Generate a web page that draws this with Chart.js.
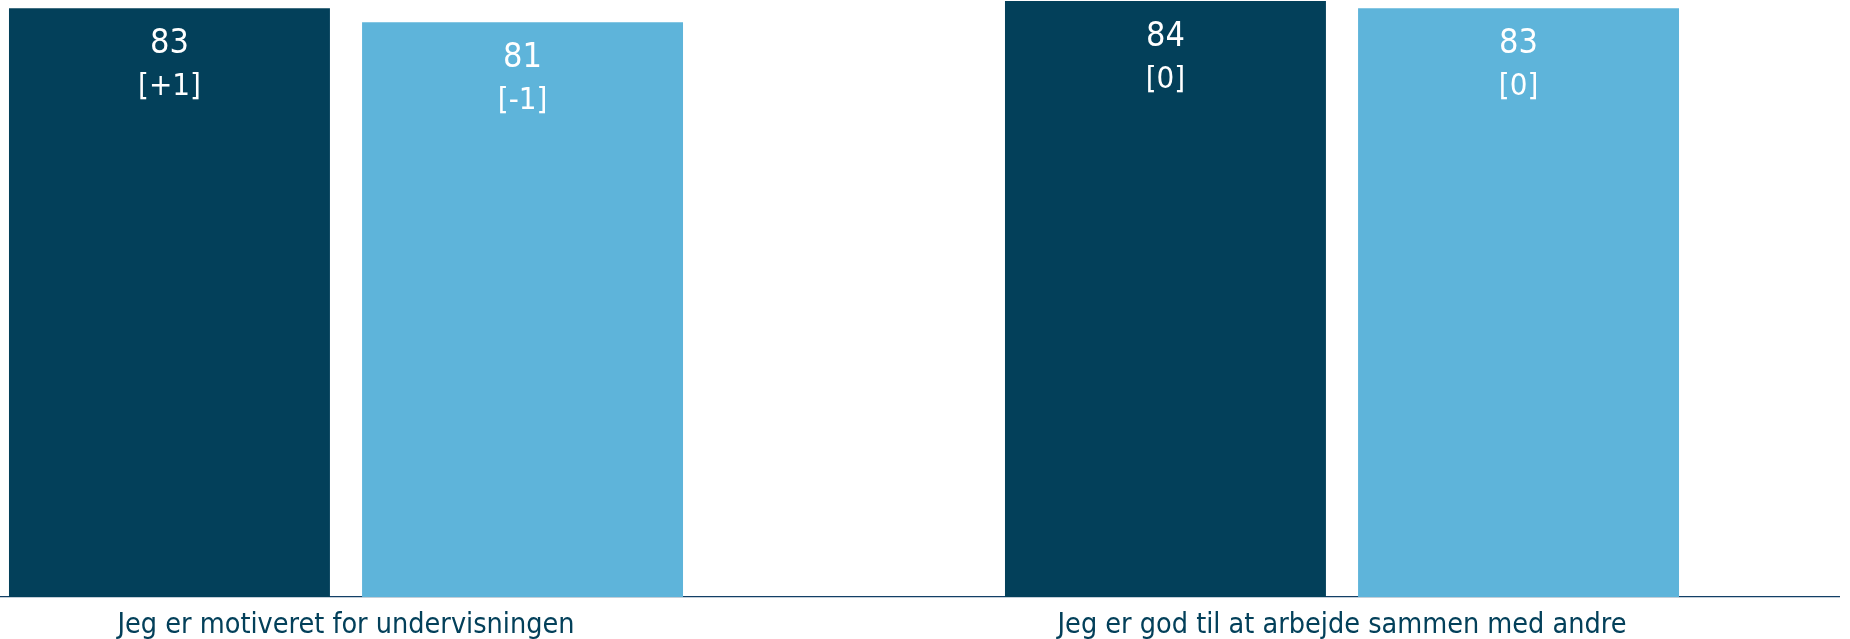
<!DOCTYPE html>
<html>
<head>
<meta charset="utf-8">
<script src="https://cdn.jsdelivr.net/npm/chart.js@4/dist/chart.umd.min.js"></script>
<style>
  html, body { margin: 0; padding: 0; background: #fff; overflow: hidden; }
  #wrap { position: absolute; left: -152px; top: 0; width: 1992px; height: 639px; }
</style>
</head>
<body>
<div id="wrap"><canvas id="myChart"></canvas></div>
<script>
var categories = ["Jeg er motiveret for undervisningen", "Jeg er god til at arbejde sammen med andre"];
var seriesA = [83, 84];
var seriesB = [81, 83];
var changeA = ["+1", "0"];
var changeB = ["-1", "0"];

var fontFam = "'DejaVu Sans Condensed', 'DejaVu Sans', sans-serif";

// draws the value and the change under it inside each bar
var barLabels = {
  id: "barLabels",
  afterDatasetsDraw: function(chart) {
    var ctx = chart.ctx;
    ctx.save();
    ctx.fillStyle = "#ffffff";
    ctx.textAlign = "center";
    ctx.textBaseline = "middle";
    chart.data.datasets.forEach(function(ds, i) {
      var meta = chart.getDatasetMeta(i);
      meta.data.forEach(function(bar, j) {
        ctx.font = "34px " + fontFam;
        ctx.fillText(ds.data[j], bar.x, bar.y + 36);
        ctx.font = "31px " + fontFam;
        ctx.fillText("[" + ds.changes[j] + "]", bar.x, bar.y + 79);
      });
    });
    ctx.restore();
  }
};

var ctx = document.getElementById("myChart").getContext("2d");
var myChart = new Chart(ctx, {
  type: "bar",
  data: {
    labels: categories,
    datasets: [{
      data: seriesA,
      changes: changeA,
      backgroundColor: "#03405A"
    }, {
      data: seriesB,
      changes: changeB,
      backgroundColor: "#5EB4DA"
    }]
  },
  options: {
    responsive: true,
    maintainAspectRatio: false,
    animation: false,
    layout: { padding: 0 },
    categoryPercentage: 0.709,
    barPercentage: 0.909,
    plugins: { legend: { display: false }, tooltip: { enabled: false } },
    scales: {
      x: {
        grid: { display: false },
        border: { display: true, color: "#123F66", width: 1.2 },
        ticks: { color: "#03405A", font: { family: fontFam, size: 28.5 }, padding: 3, maxRotation: 0 },
        afterFit: function(s) { s.height = 42; }
      },
      y: {
        display: false,
        min: 0,
        max: 84.15
      }
    }
  },
  plugins: [barLabels]
});
</script>
</body>
</html>
